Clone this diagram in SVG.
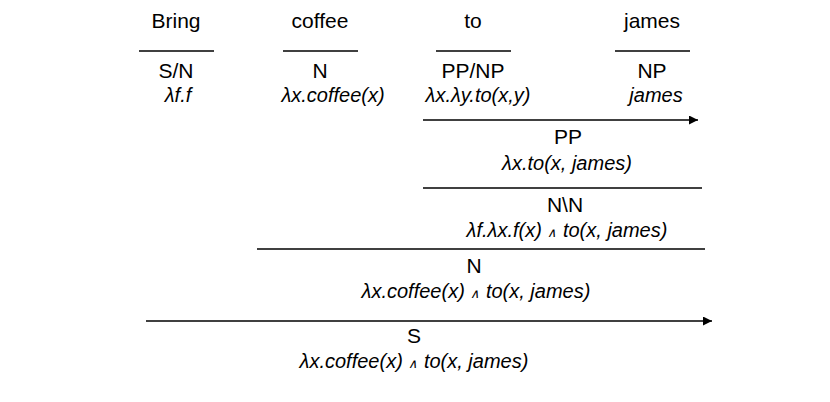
<svg xmlns="http://www.w3.org/2000/svg" width="830" height="402" viewBox="0 0 830 402">
<style>
text{font-family:"Liberation Sans",Arial,sans-serif;font-size:21px;fill:#000;text-anchor:middle}
.i{font-style:italic;font-size:20px}
.w{font-size:13px;font-style:italic}
line{stroke:#000;stroke-width:1.3}
</style>
<defs><marker id="a" viewBox="0 0 10 10" refX="10" refY="5" markerWidth="9" markerHeight="9" markerUnits="userSpaceOnUse" orient="auto"><path d="M0,0L10,5L0,10z"/></marker></defs>
<rect width="830" height="402" fill="#fff"/>
<g id="bring"><text x="176" y="28">Bring</text><line x1="139" y1="51" x2="214" y2="51"/><text x="176" y="78">S/N</text><text class="i" x="178" y="102">λf.f</text></g>
<g id="coffee"><text x="320" y="28">coffee</text><line x1="283" y1="51" x2="358" y2="51"/><text x="320" y="78">N</text><text class="i" x="333" y="102">λx.coffee(x)</text></g>
<g id="to"><text x="473" y="28">to</text><line x1="436" y1="51" x2="511" y2="51"/><text x="473" y="78">PP/NP</text><text class="i" x="478" y="102">λx.λy.to(x,y)</text></g>
<g id="james"><text x="652" y="28">james</text><line x1="615" y1="51" x2="690" y2="51"/><text x="652" y="78">NP</text><text class="i" x="656" y="102">james</text></g>
<g id="pp"><text x="568" y="144">PP</text><text class="i" x="567" y="170">λx.to(x, james)</text></g>
<g id="nn"><text x="565" y="212">N\N</text><text class="i" x="567" y="237">λf.λx.f(x) <tspan class="w">∧</tspan> to(x, james)</text></g>
<g id="n"><text x="474" y="273">N</text><text class="i" x="476" y="298">λx.coffee(x) <tspan class="w">∧</tspan> to(x, james)</text></g>
<g id="s"><text x="414" y="343">S</text><text class="i" x="414" y="368">λx.coffee(x) <tspan class="w">∧</tspan> to(x, james)</text></g>
<g id="connectors">
<line x1="423" y1="120" x2="698" y2="120" marker-end="url(#a)"/>
<line x1="423" y1="188" x2="702" y2="188"/>
<line x1="257" y1="249" x2="705" y2="249"/>
<line x1="146" y1="321" x2="712" y2="321" marker-end="url(#a)"/>
</g>
</svg>
